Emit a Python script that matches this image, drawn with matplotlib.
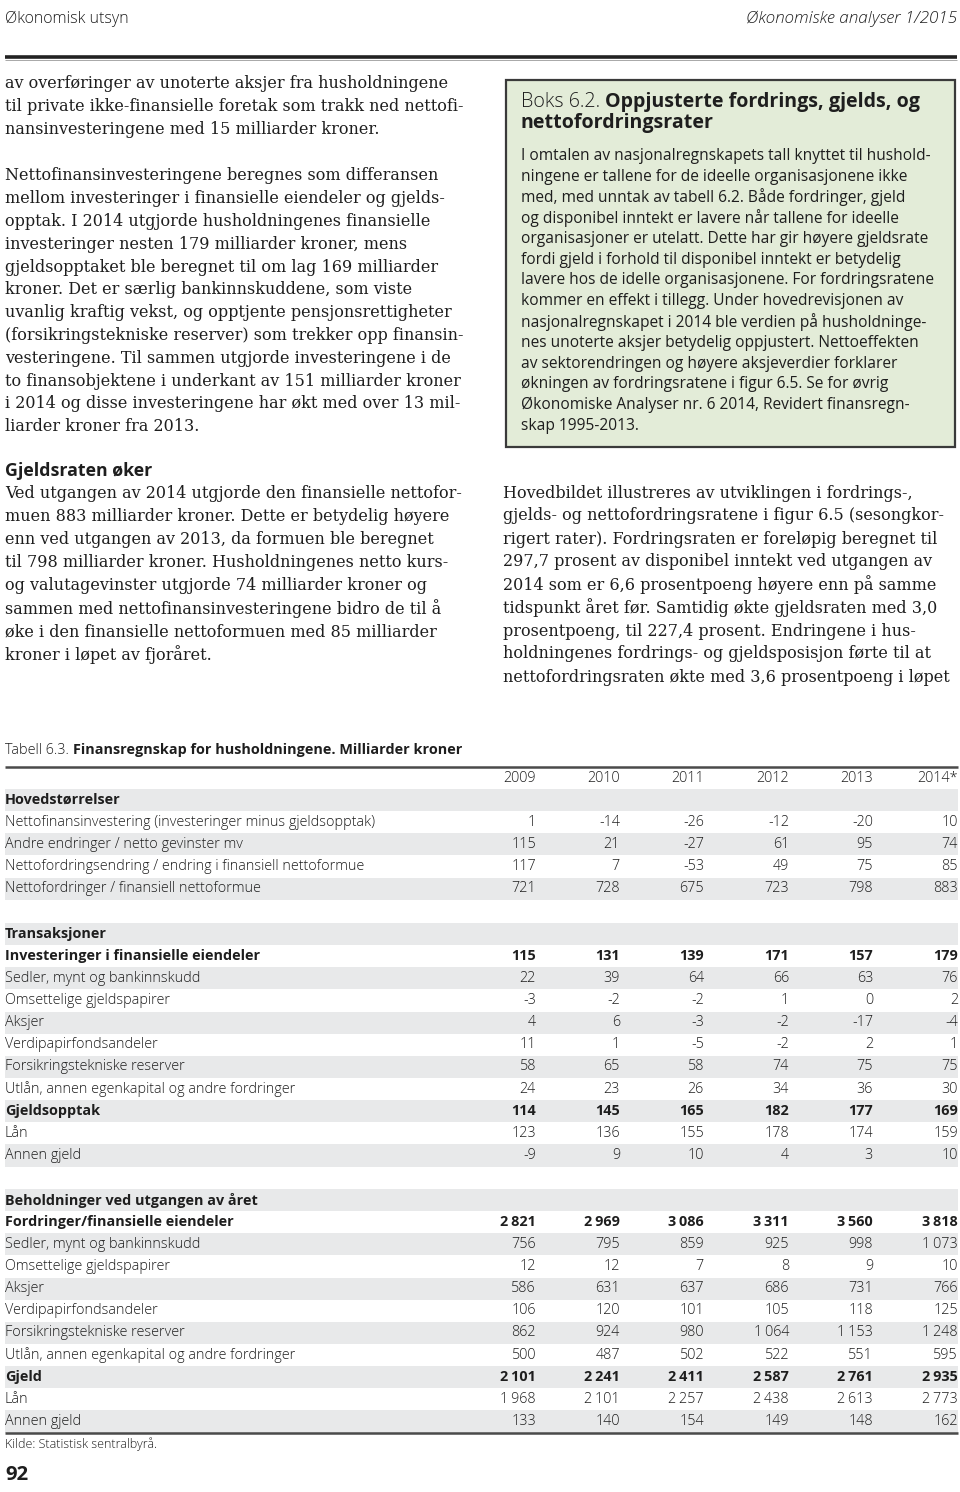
import matplotlib
matplotlib.use('Agg')
import matplotlib.pyplot as plt
from matplotlib.patches import Rectangle
from matplotlib import font_manager as fm

# ---------------- data ----------------
header_left = "Økonomisk utsyn"
header_right = "Økonomiske analyser 1/2015"

left_para1 = [
    "av overføringer av unoterte aksjer fra husholdningene",
    "til private ikke-finansielle foretak som trakk ned nettofi-",
    "nansinvesteringene med 15 milliarder kroner.",
]
left_para2 = [
    "Nettofinansinvesteringene beregnes som differansen",
    "mellom investeringer i finansielle eiendeler og gjelds-",
    "opptak. I 2014 utgjorde husholdningenes finansielle",
    "investeringer nesten 179 milliarder kroner, mens",
    "gjeldsopptaket ble beregnet til om lag 169 milliarder",
    "kroner. Det er særlig bankinnskuddene, som viste",
    "uvanlig kraftig vekst, og opptjente pensjonsrettigheter",
    "(forsikringstekniske reserver) som trekker opp finansin-",
    "vesteringene. Til sammen utgjorde investeringene i de",
    "to finansobjektene i underkant av 151 milliarder kroner",
    "i 2014 og disse investeringene har økt med over 13 mil-",
    "liarder kroner fra 2013.",
]
left_heading = "Gjeldsraten øker"
left_para3 = [
    "Ved utgangen av 2014 utgjorde den finansielle nettofor-",
    "muen 883 milliarder kroner. Dette er betydelig høyere",
    "enn ved utgangen av 2013, da formuen ble beregnet",
    "til 798 milliarder kroner. Husholdningenes netto kurs-",
    "og valutagevinster utgjorde 74 milliarder kroner og",
    "sammen med nettofinansinvesteringene bidro de til å",
    "øke i den finansielle nettoformuen med 85 milliarder",
    "kroner i løpet av fjoråret.",
]

box_label = "Boks 6.2."
box_title = ["Oppjusterte fordrings, gjelds, og", "nettofordringsrater"]
box_lines = [
    "I omtalen av nasjonalregnskapets tall knyttet til hushold-",
    "ningene er tallene for de ideelle organisasjonene ikke",
    "med, med unntak av tabell 6.2. Både fordringer, gjeld",
    "og disponibel inntekt er lavere når tallene for ideelle",
    "organisasjoner er utelatt. Dette har gir høyere gjeldsrate",
    "fordi gjeld i forhold til disponibel inntekt er betydelig",
    "lavere hos de idelle organisasjonene. For fordringsratene",
    "kommer en effekt i tillegg. Under hovedrevisjonen av",
    "nasjonalregnskapet i 2014 ble verdien på husholdninge-",
    "nes unoterte aksjer betydelig oppjustert. Nettoeffekten",
    "av sektorendringen og høyere aksjeverdier forklarer",
    "økningen av fordringsratene i figur 6.5. Se for øvrig",
    "Økonomiske Analyser nr. 6 2014, Revidert finansregn-",
    "skap 1995-2013.",
]

right_para = [
    "Hovedbildet illustreres av utviklingen i fordrings-,",
    "gjelds- og nettofordringsratene i figur 6.5 (sesongkor-",
    "rigert rater). Fordringsraten er foreløpig beregnet til",
    "297,7 prosent av disponibel inntekt ved utgangen av",
    "2014 som er 6,6 prosentpoeng høyere enn på samme",
    "tidspunkt året før. Samtidig økte gjeldsraten med 3,0",
    "prosentpoeng, til 227,4 prosent. Endringene i hus-",
    "holdningenes fordrings- og gjeldsposisjon førte til at",
    "nettofordringsraten økte med 3,6 prosentpoeng i løpet",
]

table_label = "Tabell 6.3."
table_title = "Finansregnskap for husholdningene. Milliarder kroner"
years = ["2009", "2010", "2011", "2012", "2013", "2014*"]

sec1_title = "Hovedstørrelser"
sec1_labels = [
    "Nettofinansinvestering (investeringer minus gjeldsopptak)",
    "Andre endringer / netto gevinster mv",
    "Nettofordringsendring / endring i finansiell nettoformue",
    "Nettofordringer / finansiell nettoformue",
]
sec1_values = [
    [1, -14, -26, -12, -20, 10],
    [115, 21, -27, 61, 95, 74],
    [117, 7, -53, 49, 75, 85],
    [721, 728, 675, 723, 798, 883],
]
sec1_bold = []

sec2_title = "Transaksjoner"
sec2_labels = [
    "Investeringer i finansielle eiendeler",
    "Sedler, mynt og bankinnskudd",
    "Omsettelige gjeldspapirer",
    "Aksjer",
    "Verdipapirfondsandeler",
    "Forsikringstekniske reserver",
    "Utlån, annen egenkapital og andre fordringer",
    "Gjeldsopptak",
    "Lån",
    "Annen gjeld",
]
sec2_values = [
    [115, 131, 139, 171, 157, 179],
    [22, 39, 64, 66, 63, 76],
    [-3, -2, -2, 1, 0, 2],
    [4, 6, -3, -2, -17, -4],
    [11, 1, -5, -2, 2, 1],
    [58, 65, 58, 74, 75, 75],
    [24, 23, 26, 34, 36, 30],
    [114, 145, 165, 182, 177, 169],
    [123, 136, 155, 178, 174, 159],
    [-9, 9, 10, 4, 3, 10],
]
sec2_bold = [0, 7]

sec3_title = "Beholdninger ved utgangen av året"
sec3_labels = [
    "Fordringer/finansielle eiendeler",
    "Sedler, mynt og bankinnskudd",
    "Omsettelige gjeldspapirer",
    "Aksjer",
    "Verdipapirfondsandeler",
    "Forsikringstekniske reserver",
    "Utlån, annen egenkapital og andre fordringer",
    "Gjeld",
    "Lån",
    "Annen gjeld",
]
sec3_values = [
    [2821, 2969, 3086, 3311, 3560, 3818],
    [756, 795, 859, 925, 998, 1073],
    [12, 12, 7, 8, 9, 10],
    [586, 631, 637, 686, 731, 766],
    [106, 120, 101, 105, 118, 125],
    [862, 924, 980, 1064, 1153, 1248],
    [500, 487, 502, 522, 551, 595],
    [2101, 2241, 2411, 2587, 2761, 2935],
    [1968, 2101, 2257, 2438, 2613, 2773],
    [133, 140, 154, 149, 148, 162],
]
sec3_bold = [0, 7]

source_note = "Kilde: Statistisk sentralbyrå."
page_number = "92"

# ---------------- fonts ----------------
def _has(name, weight):
    for f in fm.fontManager.ttflist:
        if f.name == name and f.style == 'normal' and f.weight == weight:
            return True
    return False

LIGHT_FAM, LIGHT_W = 'Open Sans', 'normal'
for name in ['Open Sans', 'Noto Sans', 'Lato', 'Roboto']:
    if _has(name, 300):
        LIGHT_FAM, LIGHT_W = name, 300
        break

SERIF = ['DejaVu Serif']
SANS = ['Open Sans', 'DejaVu Sans']
LSANS = [LIGHT_FAM, 'DejaVu Sans']
TXT = '#1e1e1e'

# ---------------- layout ----------------
W, H = 960, 1492
fig = plt.figure(figsize=(9.6, 14.92), dpi=100)
ax = fig.add_axes([0, 0, 1, 1])
ax.set_xlim(0, W)
ax.set_ylim(H, 0)
ax.axis('off')
fig.canvas.draw()
R = fig.canvas.get_renderer()


def fmt(v):
    s = f"{abs(v):,}".replace(",", "\u2009")
    return ("-" if v < 0 else "") + s


def block(lines, x, y0, dy, target_w, family, size0=12, weight='normal',
          style='normal', ha='left', color=TXT):
    ts = [ax.text(x, y0 + i * dy, s, fontsize=size0, family=family,
                  fontweight=weight, fontstyle=style, ha=ha, va='center',
                  color=color) for i, s in enumerate(lines)]
    w = max(t.get_window_extent(R).width for t in ts)
    fs = size0 * target_w / w
    for t in ts:
        t.set_fontsize(fs)
    return fs


# running header
block([header_left], 5, 19, 0, 124, LSANS, weight=LIGHT_W)
block([header_right], 957, 19, 0, 211, LSANS, weight=LIGHT_W, style='italic', ha='right')
ax.plot([5, 957], [57, 57], color='#222222', lw=2.6, solid_capstyle='butt')
ax.plot([5, 957], [59.5, 59.5], color='#9a9a9a', lw=0.6, solid_capstyle='butt')

# left column
body_fs = block(left_para1, 5, 84, 22.9, 455, SERIF)
for i, s in enumerate(left_para2):
    ax.text(5, 176 + i * 22.8, s, fontsize=body_fs, family=SERIF,
            va='center', color=TXT)
block([left_heading], 5, 471, 0, 147, SANS, weight='bold')
for i, s in enumerate(left_para3):
    ax.text(5, 493 + i * 23.1, s, fontsize=body_fs, family=SERIF,
            va='center', color=TXT)

# box
ax.add_patch(Rectangle((506, 80), 449, 367, facecolor='#e3ecd8',
                       edgecolor='#3a3a3a', lw=1.6))
lab = ax.text(521, 102, box_label + " ", fontsize=13, family=LSANS,
              fontweight=LIGHT_W, va='center', color=TXT)
tfs = block([box_title[1]], 521, 123, 0, 192, SANS, weight='bold')
lab.set_fontsize(tfs)
lw_ = lab.get_window_extent(R).width
ax.text(521 + lw_, 102, box_title[0], fontsize=tfs, family=SANS,
        fontweight='bold', va='center', color=TXT)
block(box_lines, 521, 156, 20.75, 410, SANS)

# right column
for i, s in enumerate(right_para):
    ax.text(503, 493 + i * 23.0, s, fontsize=body_fs, family=SERIF,
            va='center', color=TXT)

# table
col_right = [536, 620, 704, 789, 873, 958]
row_h = 22.15
tl = ax.text(5, 750, table_label + " ", fontsize=11, family=LSANS,
             fontweight=LIGHT_W, va='center', color=TXT)
ttl = ax.text(0, 750, table_title, fontsize=11, family=SANS,
              fontweight='bold', va='center', color=TXT)
w_all = tl.get_window_extent(R).width + ttl.get_window_extent(R).width
tfs2 = 11 * 455 / w_all
tl.set_fontsize(tfs2)
ttl.set_fontsize(tfs2)
ttl.set_x(5 + tl.get_window_extent(R).width)

ax.plot([5, 958], [767, 767], color='#4a4a4a', lw=1.8, solid_capstyle='butt')

probe = ax.text(5, -100, sec1_labels[0], fontsize=10, family=LSANS,
                fontweight=LIGHT_W)
tab_fs = 10 * 370 / probe.get_window_extent(R).width
probe.remove()

yr_y = 778
for x, yv in zip(col_right, years):
    ax.text(x, yr_y, yv, fontsize=tab_fs, family=LSANS, fontweight=LIGHT_W,
            ha='right', va='center', color=TXT)


def section(title, labels, values, bold, y0):
    rows = [(title, None, True)] + [
        (lab, vals, i in bold) for i, (lab, vals) in enumerate(zip(labels, values))]
    for k, (lab, vals, b) in enumerate(rows):
        y = y0 + k * row_h
        if k % 2 == 0:
            ax.add_patch(Rectangle((5, y - row_h / 2), 953, row_h,
                                   facecolor='#e8e9ea', edgecolor='none', zorder=0))
        fam = SANS if b else LSANS
        wt = 'bold' if b else LIGHT_W
        ax.text(5, y, lab, fontsize=tab_fs, family=fam, fontweight=wt,
                va='center', color=TXT)
        if vals is not None:
            for x, v in zip(col_right, vals):
                ax.text(x, y, fmt(v), fontsize=tab_fs, family=fam,
                        fontweight=wt, ha='right', va='center', color=TXT)
    return y0 + (len(rows) - 1) * row_h


section(sec1_title, sec1_labels, sec1_values, sec1_bold, 800)
section(sec2_title, sec2_labels, sec2_values, sec2_bold, 934)
last = section(sec3_title, sec3_labels, sec3_values, sec3_bold, 1200)
ax.plot([5, 958], [last + row_h / 2 + 0.5] * 2, color='#4a4a4a', lw=1.8,
        solid_capstyle='butt')

block([source_note], 5, 1444, 0, 152, LSANS, weight=LIGHT_W)
block([page_number], 5, 1475, 0, 23, SANS, weight='bold')

fig.savefig('out.png', dpi=100, facecolor='white')
